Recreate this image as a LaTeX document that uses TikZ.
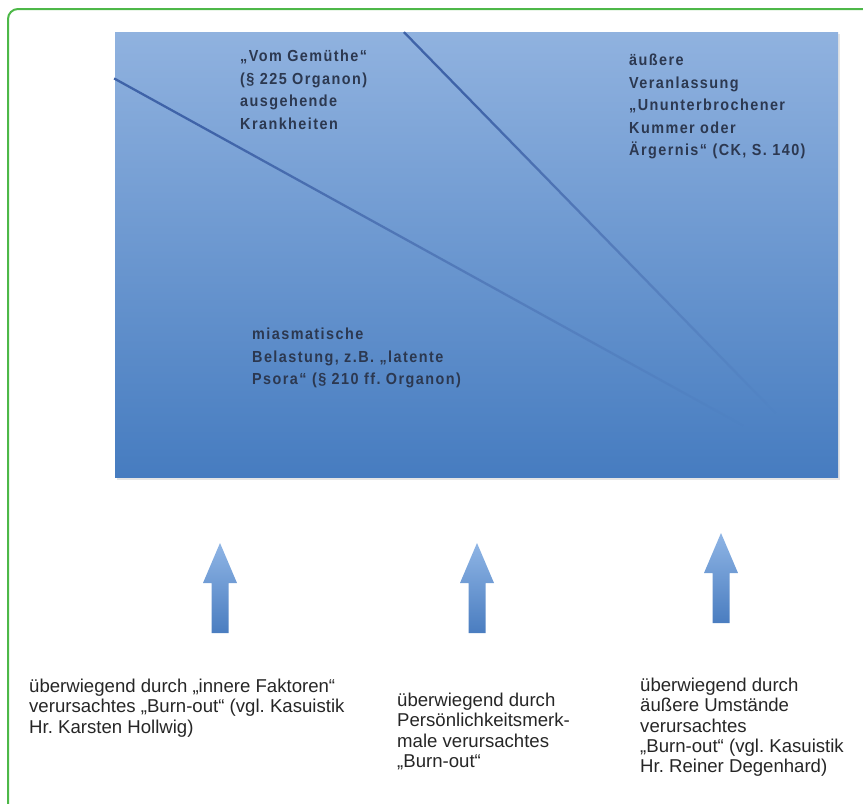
\documentclass[tikz,border=0pt]{standalone}
\usepackage{fontspec}
\setmainfont{Liberation Sans}
\newfontfamily\narrowfont[FakeStretch=0.9,LetterSpace=9]{Liberation Sans}
\usepackage{xcolor}
\usepackage{tikz}
\usetikzlibrary{positioning,fadings}

\definecolor{boxtop}{HTML}{90B2DF}
\definecolor{boxbot}{HTML}{467CC0}
\definecolor{lineblue}{HTML}{3F63A8}
\definecolor{arrtop}{HTML}{8FB5E5}
\definecolor{arrbot}{HTML}{4A7DC0}
\definecolor{framegreen}{HTML}{4DB848}
\definecolor{inktext}{HTML}{2C3850}

\tikzfading[name=fadeline, left color=transparent!0, middle color=transparent!55, right color=transparent!100]

\begin{document}
\frenchspacing
\begin{tikzpicture}[x=1pt, y=-1pt,
    inbox/.style={inner sep=0pt, anchor=north west, align=left, text=inktext,
        font=\narrowfont\bfseries\fontsize{16}{22.5}\selectfont},
    caption/.style={inner sep=0pt, anchor=north west, align=left, text=black!85,
        font=\fontsize{18.6}{20.3}\selectfont}]
    \useasboundingbox (0,0) rectangle (863,804);

    % frame
    \draw[framegreen, line width=2pt, rounded corners=10pt] (8,820) -- (8,9) -- (880,9);

    % box with shadow
    \fill[black!10] (117,34) rectangle (840,480);
    \shade[top color=boxtop, bottom color=boxbot] (115,32) rectangle (838,477);
    \coordinate (corner) at (838,477);
    \coordinate (left) at (115,78);
    \coordinate (top) at (404,32);
    \draw[lineblue, line width=2.3pt, path fading=fadeline, fading angle=-29] (left) -- (corner);
    \draw[lineblue, line width=2.3pt, path fading=fadeline, fading angle=-47] (top) -- (corner);

    \node[inbox] (gemuet) at (240,50) {„Vom Gemüthe“\\(§ 225 Organon)\\ausgehende\\Krankheiten};
    \node[inbox] (aeussere) at (629,54) {äußere\\Veranlassung\\„Ununterbrochener\\Kummer oder\\Ärgernis“ (CK, S. 140)};
    \node[inbox] (miasma) at (252,328) {miasmatische\\Belastung, z.B. „latente\\Psora“ (§ 210 ff. Organon)};

    % arrows
    \foreach \x/\y in {220/543, 477/543, 721/533}
        \shade[top color=arrtop, bottom color=arrbot]
            (\x-8.5,\y+90) -- (\x-8.5,\y+40) -- (\x-17,\y+40) -- (\x,\y)
            -- (\x+17,\y+40) -- (\x+8.5,\y+40) -- (\x+8.5,\y+90) -- cycle;

    \node[caption] (innen) at (29,679) {überwiegend durch „innere Faktoren“\\verursachtes „Burn-out“ (vgl. Kasuistik\\Hr. Karsten Hollwig)};
    \node[caption] (person) at (397,693) {überwiegend durch\\Persönlichkeitsmerk-\\male verursachtes\\„Burn-out“};
    \node[caption] (aussen) at (640,678) {überwiegend durch\\äußere Umstände\\verursachtes\\„Burn-out“ (vgl. Kasuistik\\Hr. Reiner Degenhard)};
\end{tikzpicture}
\end{document}
